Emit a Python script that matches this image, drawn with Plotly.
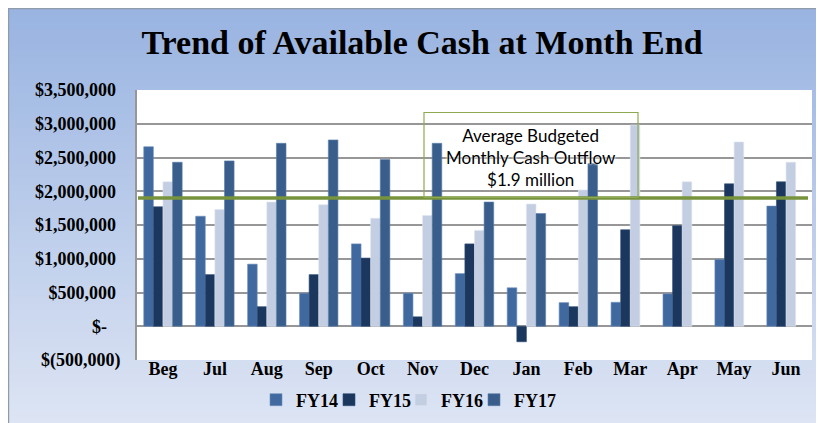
import plotly.graph_objects as go

# ---------------- data ----------------
months = ["Beg", "Jul", "Aug", "Sep", "Oct", "Nov", "Dec", "Jan", "Feb", "Mar", "Apr", "May", "Jun"]
fy14 = [2660000, 1630000, 920000, 490000, 1220000, 490000, 780000, 570000, 350000, 355000, 480000, 990000, 1780000]
fy15 = [1770000, 765000, 290000, 765000, 1010000, 140000, 1220000, -230000, 290000, 1430000, 1490000, 2110000, 2140000]
fy16 = [2140000, 1730000, 1840000, 1800000, 1600000, 1640000, 1420000, 1810000, 2020000, 2980000, 2140000, 2730000, 2430000]
fy17 = [2430000, 2450000, 2710000, 2760000, 2470000, 2710000, 1840000, 1670000, 2410000, None, None, None, None]
series_names = ["FY14", "FY15", "FY16", "FY17"]
budget_outflow = 1900000
budget_label = "Average Budgeted<br>Monthly Cash Outflow<br>$1.9 million"
tick_values = [-500000, 0, 500000, 1000000, 1500000, 2000000, 2500000, 3000000, 3500000]
tick_labels = ["$(500,000)", "$-\u00a0\u00a0\u00a0", "$500,000\u00a0", "$1,000,000\u00a0", "$1,500,000\u00a0",
               "$2,000,000\u00a0", "$2,500,000\u00a0", "$3,000,000\u00a0", "$3,500,000\u00a0"]
title_text = "Trend of Available Cash at Month End"

# ---------------- layout geometry (page pixels, page has 8px body margin) ----------------
OFF = 8
W_FIG, H_FIG = 824, 423
PL, PR, PT, PB = 137, 812, 90, 360          # plot area in page pixels
L, R, T, B = PL - OFF, W_FIG - (PR - OFF), PT - OFF, H_FIG - (PB - OFF)
PW, PH = W_FIG - L - R, H_FIG - T - B

def px_x(p):
    return (p - OFF - L) / PW

def px_y(p):
    return (H_FIG - B - (p - OFF)) / PH

colors = ["#4069a0", "#1b375e", "#c4cee2", "#395e8c"]
edge = ["#6d8fbd", "#2f4f7a", "#dfe5f0", "#5d7fab"]
legend_ids = ["legend", "legend2", "legend3", "legend4"]
legend_text_x = [296, 369, 441, 514]   # page px where each legend label starts

fig = go.Figure()
for name, vals, c, e, lg in zip(series_names, [fy14, fy15, fy16, fy17], colors, edge, legend_ids):
    fig.add_trace(go.Bar(x=months, y=vals, name=name, legend=lg,
                         marker=dict(color=c, line=dict(color=e, width=0.6))))

shapes = []
# vertical gradient background
top_rgb = (153, 180, 225)
bot_rgb = (222, 229, 244)
n = 60
for i in range(n):
    f = i / (n - 1)
    col = tuple(round(a + (b - a) * f) for a, b in zip(top_rgb, bot_rgb))
    y0 = OFF + i * H_FIG / n
    y1 = OFF + (i + 1) * H_FIG / n + 1
    shapes.append(dict(type="rect", xref="paper", yref="paper",
                       x0=px_x(OFF), x1=px_x(OFF + W_FIG), y0=px_y(y1), y1=px_y(y0),
                       fillcolor="rgb(%d,%d,%d)" % col, line=dict(width=0), layer="below"))
# outer frame
shapes.append(dict(type="rect", xref="paper", yref="paper",
                   x0=px_x(OFF + 0.6), x1=px_x(OFF + W_FIG + 10), y0=px_y(OFF + H_FIG + 10), y1=px_y(OFF + 0.6),
                   line=dict(color="#8f9aab", width=1.2), fillcolor="rgba(0,0,0,0)", layer="below"))
# plot area white
shapes.append(dict(type="rect", xref="paper", yref="paper", x0=0, x1=1, y0=0, y1=1,
                   fillcolor="white", line=dict(width=0), layer="below"))
# budget line
shapes.append(dict(type="line", xref="paper", yref="y", x0=px_x(138), x1=px_x(808),
                   y0=budget_outflow, y1=budget_outflow,
                   line=dict(color="#77933c", width=3.5), layer="above"))
# label box
shapes.append(dict(type="rect", xref="paper", yref="paper",
                   x0=px_x(424), x1=px_x(638), y0=px_y(197.5), y1=px_y(112.5),
                   line=dict(color="#8eaa50", width=1.2), fillcolor="rgba(0,0,0,0)", layer="above"))

legend_style = dict(orientation="h", yanchor="middle", xanchor="left",
                    font=dict(family="Liberation Serif", size=18, color="black", weight="bold"),
                    bgcolor="rgba(0,0,0,0)", itemwidth=30, borderwidth=0)
legend_layouts = {}
for lg, tx in zip(legend_ids, legend_text_x):
    legend_layouts[lg] = dict(legend_style, x=px_x(tx - 40), y=px_y(400))

fig.update_layout(
    width=W_FIG, height=H_FIG,
    margin=dict(l=L, r=R, t=T, b=B, autoexpand=False),
    paper_bgcolor="#bccbea", plot_bgcolor="white",
    barmode="group", bargap=0.26, bargroupgap=0,
    shapes=shapes,
    title=dict(text="<b>" + title_text + "</b>", x=(422 - OFF) / W_FIG, xanchor="center",
               y=1 - (42 - OFF) / H_FIG, yanchor="middle", xref="container", yref="container",
               font=dict(family="Liberation Serif", size=34, color="black")),
    font=dict(family="Liberation Serif", color="black"),
    showlegend=True,
    annotations=[dict(text=budget_label, xref="paper", yref="paper",
                      x=px_x(531), y=px_y(157), xanchor="center", yanchor="middle",
                      showarrow=False, align="center",
                      font=dict(family="Lato", size=17, color="#000000",
                                shadow="0px 0px 3px white, 0px 0px 2px white"))],
    **legend_layouts,
)
fig.update_xaxes(showgrid=False, showline=False, ticks="", ticklabelstandoff=-4,
                 tickfont=dict(family="Liberation Serif", size=18, color="black", weight="bold"))
fig.update_yaxes(range=[-500000, 3500000], tickvals=tick_values, ticktext=tick_labels,
                 showgrid=True, gridcolor="#979797", gridwidth=1.6,
                 zeroline=True, zerolinecolor="#979797", zerolinewidth=1.6,
                 showline=True, linecolor="#979797", linewidth=1.6,
                 ticks="", ticklabelstandoff=11,
                 tickfont=dict(family="Liberation Serif", size=18, color="black", weight="bold"))

fig.write_html("out.html")
